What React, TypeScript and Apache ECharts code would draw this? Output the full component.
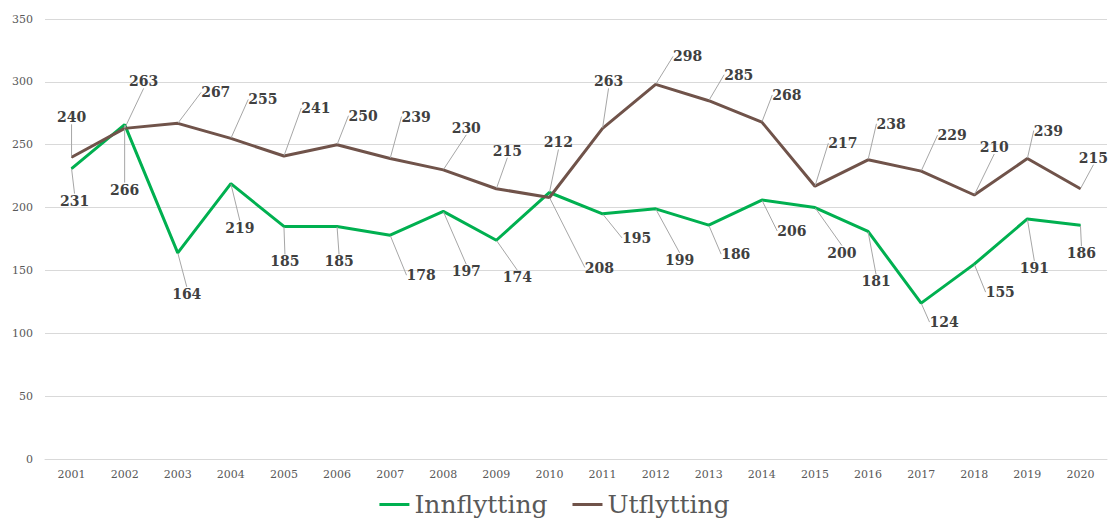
import React, { useEffect, useRef } from "react";
import * as echarts from "echarts";

const years = ["2001","2002","2003","2004","2005","2006","2007","2008","2009","2010","2011","2012","2013","2014","2015","2016","2017","2018","2019","2020"];
const innflytting = [231,266,164,219,185,185,178,197,174,212,195,199,186,206,200,181,124,155,191,186];
const utflytting = [240,263,267,255,241,250,239,230,215,208,263,298,285,268,217,238,229,210,239,215];
const yTicks = [0, 50, 100, 150, 200, 250, 300, 350];

// label offsets (style only)
const innOffsets: number[][] = [[3,32],[0,65],[9,41],[9,44],[1,35],[2,35],[31,40],[23,60],[21,37],[9,-50],[34,24],[24,51],[27,29],[30,31],[27,45],[8,50],[23,19],[26,28],[7,49],[1,28]];
const utOffsets: number[][] = [[0,-40],[19,-47],[38,-31],[32,-39],[32,-48],[26,-29],[26,-42],[23,-42],[11,-38],[50,70],[6,-47],[32,-28],[30,-26],[25,-27],[28,-43],[23,-36],[31,-36],[20,-48],[21,-28],[13,-31]];

const FONT = "DejaVu Serif";

export default function App() {
  const ref = useRef<HTMLDivElement>(null);
  useEffect(() => {
    document.body.style.margin = "0";
    const chart = echarts.init(ref.current!, null, { renderer: "svg" });
    const labelCommon = {
      show: true,
      position: "inside",
      fontFamily: FONT,
      fontWeight: "bold",
      fontSize: 14,
      color: "#404040",
    };
    const labelLine = { show: true, lineStyle: { color: "#a6a6a6", width: 1 } };
    chart.setOption({
      animation: false,
      grid: { left: 45, right: 2, top: 19, bottom: 61 },
      legend: {
        bottom: -2,
        left: "center",
        itemWidth: 30,
        itemHeight: 3,
        itemGap: 25,
        icon: "rect",
        textStyle: { fontFamily: FONT, fontSize: 25, color: "#595959" },
        data: ["Innflytting", "Utflytting"],
      },
      xAxis: {
        type: "category",
        data: years,
        boundaryGap: true,
        axisLine: { show: true, lineStyle: { color: "#d9d9d9" } },
        axisTick: { show: false },
        axisLabel: { fontFamily: FONT, fontSize: 11, color: "#595959", margin: 10 },
      },
      yAxis: {
        type: "value",
        min: yTicks[0],
        max: yTicks[yTicks.length - 1],
        interval: 50,
        axisLine: { show: false },
        axisTick: { show: false },
        splitLine: { lineStyle: { color: "#d9d9d9" } },
        axisLabel: { fontFamily: FONT, fontSize: 11, color: "#595959", margin: 12 },
      },
      series: [
        {
          name: "Innflytting",
          type: "line",
          data: innflytting,
          symbol: "circle",
          symbolSize: 1,
          showSymbol: true,
          lineStyle: { color: "#00b050", width: 3 },
          itemStyle: { color: "#00b050" },
          label: labelCommon,
          labelLine,
          labelLayout: (p: any) => ({ dx: innOffsets[p.dataIndex][0], dy: innOffsets[p.dataIndex][1] }),
        },
        {
          name: "Utflytting",
          type: "line",
          data: utflytting,
          symbol: "circle",
          symbolSize: 1,
          showSymbol: true,
          lineStyle: { color: "#70534a", width: 3 },
          itemStyle: { color: "#70534a" },
          label: labelCommon,
          labelLine,
          labelLayout: (p: any) => ({ dx: utOffsets[p.dataIndex][0], dy: utOffsets[p.dataIndex][1] }),
        },
      ],
    });
    return () => chart.dispose();
  }, []);
  return <div ref={ref} style={{ width: 1109, height: 520 }} />;
}
